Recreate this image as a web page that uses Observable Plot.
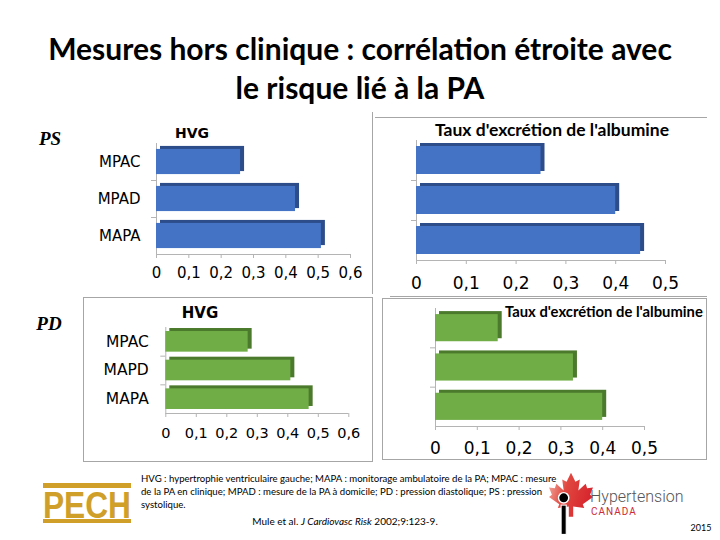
<!DOCTYPE html>
<html><head><meta charset="utf-8">
<script src="https://cdn.jsdelivr.net/npm/d3@7"></script>
<script src="https://cdn.jsdelivr.net/npm/@observablehq/plot@0.6"></script>
<style>
body{margin:0;background:#fff;}
#slide{position:relative;width:720px;height:540px;overflow:hidden;font-family:"DejaVu Sans";background:#fff;}
.abs{position:absolute;white-space:nowrap;line-height:1;}
.line{position:absolute;background:#a6a6a6;}
</style></head><body><div id="slide"></div>
<script>
// ---- data ----
const catsPS = ["MPAC", "MPAD", "MAPA"];
const catsPD = ["MPAC", "MAPD", "MAPA"];
const psHVG = [0.26, 0.43, 0.51];
const psAlb = [0.25, 0.40, 0.45];
const pdHVG = [0.27, 0.41, 0.47];
const pdAlb = [0.15, 0.33, 0.40];
const ticks06 = [0, 0.1, 0.2, 0.3, 0.4, 0.5, 0.6];
const ticks05 = [0, 0.1, 0.2, 0.3, 0.4, 0.5];
const titleHVG = "HVG";
const titleAlb = "Taux d'excrétion de l'albumine";

const slide = document.getElementById("slide");
function txt(s, x, y, style, anchor = "middle") {
  const d = document.createElement("div");
  d.className = "abs";
  d.innerHTML = s;
  d.style.left = x + "px"; d.style.top = y + "px";
  const tx = anchor === "middle" ? "-50%" : anchor === "end" ? "-100%" : "0";
  d.style.transform = `translate(${tx},-50%)`;
  Object.assign(d.style, style);
  slide.appendChild(d);
  return d;
}
function line(x, y, w, h, color = "#a6a6a6") {
  const d = document.createElement("div");
  d.className = "line";
  Object.assign(d.style, {left: x + "px", top: y + "px", width: w + "px", height: h + "px", background: color});
  slide.appendChild(d);
}

function panel(c) {
  const n = c.values.length;
  const data = c.values.map((v, i) => ({i, v, c: c.cats[i]}));
  const fmt = d => String(d).replace(".", ",");
  const p = Plot.plot({
    width: c.width, height: c.height,
    marginLeft: c.x0 - c.left, marginRight: c.left + c.width - c.x1,
    marginTop: c.yTop - c.top, marginBottom: c.top + c.height - c.yBottom,
    x: {domain: [0, c.xmax]},
    y: {domain: [0, n], reverse: true},
    style: {fontFamily: "DejaVu Sans", background: "transparent", overflow: "visible", color: "#000"},
    marks: [
      Plot.ruleX([0], {y1: 0, y2: n, stroke: "#b4b4b4"}),
      Plot.ruleY([n], {x1: 0, x2: c.xmax, stroke: "#b4b4b4"}),
      Plot.axisX({ticks: c.ticks, tickFormat: fmt, tickSize: 4, tickPadding: c.tickPad, stroke: "#b4b4b4", fill: "#000", fontSize: c.tickFont, anchor: "bottom", label: null}),
      Plot.axisY({ticks: d3.range(1, n), tickFormat: () => "", tickSize: 5, stroke: "#b4b4b4", anchor: "left", label: null}),
      c.showCats ? Plot.axisY({ticks: d3.range(n).map(i => i + 0.5), tickFormat: t => c.cats[Math.floor(t)], tickSize: 0, tickPadding: c.catPad, fill: "#000", fontSize: c.catFont, anchor: "left", label: null}) : null,
      Plot.rectX(data, {x: "v", y1: d => d.i + c.pad, y2: d => d.i + 1 - c.pad, fill: c.side, dx: 4, dy: -3}),
      Plot.rectX(data, {x: "v", y1: d => d.i + c.pad, y2: d => d.i + 1 - c.pad, fill: c.front})
    ]
  });
  p.style.position = "absolute";
  p.style.left = c.left + "px";
  p.style.top = c.top + "px";
  slide.appendChild(p);
}

const blue = {front: "#4472c4", side: "#2c4d8a"};
const green = {front: "#70ad47", side: "#4b7a2c"};

panel({left: 80, top: 112, width: 292, height: 180, x0: 156, x1: 350, yTop: 143, yBottom: 254,
  xmax: 0.6, ticks: ticks06, values: psHVG, cats: catsPS, showCats: true, tickFont: 15, tickPad: 9,
  catFont: 15, catPad: 16, pad: 0.16, ...blue});
panel({left: 376, top: 118, width: 330, height: 176, x0: 416, x1: 665, yTop: 140, yBottom: 260,
  xmax: 0.5, ticks: ticks05, values: psAlb, cats: catsPS, showCats: false, tickFont: 17, tickPad: 12,
  pad: 0.15, ...blue});
panel({left: 84, top: 298, width: 288, height: 163, x0: 165.3, x1: 348.3, yTop: 327, yBottom: 413,
  xmax: 0.6, ticks: ticks06, values: pdHVG, cats: catsPD, showCats: true, tickFont: 14.5, tickPad: 10,
  catFont: 15.5, catPad: 17, pad: 0.14, ...green});
panel({left: 383, top: 299, width: 323, height: 158, x0: 435, x1: 644, yTop: 308, yBottom: 426,
  xmax: 0.5, ticks: ticks05, values: pdAlb, cats: catsPD, showCats: false, tickFont: 17, tickPad: 11,
  pad: 0.155, ...green});

// borders
line(372, 112, 1, 182);
line(375, 117, 332, 1);
line(390, 296, 317, 1);
line(83, 297, 290, 1); line(83, 297, 1, 165); line(372, 297, 1, 165); line(83, 461, 290, 1);
line(382, 298, 325, 1); line(382, 298, 1, 161); line(706, 298, 1, 161); line(382, 459, 325, 1);

// titles
const titleStyle = {fontFamily: "Lato", fontWeight: "700", fontSize: "30px", color: "#000"};
txt("Mesures hors clinique : corrélation étroite avec", 360, 48, titleStyle);
txt("le risque lié à la PA", 360, 87, titleStyle);
txt("PS", 50, 138, {fontFamily: "Liberation Serif", fontStyle: "italic", fontWeight: "700", fontSize: "19px"});
txt("PD", 49, 323, {fontFamily: "Liberation Serif", fontStyle: "italic", fontWeight: "700", fontSize: "19px"});
txt(titleHVG, 192, 133, {fontFamily: "DejaVu Sans", fontWeight: "700", fontSize: "14px"});
txt(titleAlb, 552, 130, {fontFamily: "Lato", fontWeight: "700", fontSize: "17.5px"});
txt(titleHVG, 200, 313, {fontFamily: "DejaVu Sans", fontWeight: "700", fontSize: "15px"});
txt(titleAlb, 505, 311, {fontFamily: "Lato", fontWeight: "700", fontSize: "14.8px"}, "start");

// footnote
const fn = {fontFamily: "Lato", fontSize: "9.6px", color: "#000"};
txt("HVG : hypertrophie ventriculaire gauche; MAPA : monitorage ambulatoire de la PA; MPAC : mesure", 141, 479, fn, "start");
txt("de la PA en clinique; MPAD : mesure de la PA à domicile; PD : pression diastolique; PS : pression", 141, 492, fn, "start");
txt("systolique.", 141, 505, fn, "start");
txt("Mule et al. <i>J Cardiovasc Risk</i> 2002;9:123-9.", 345, 521, {fontFamily: "Lato", fontSize: "10px"});
txt("2015", 701, 527, {fontFamily: "Lato", fontSize: "9px"});

// PECH logo
const pech = document.createElement("div");
pech.className = "abs";
pech.style.left = "42px"; pech.style.top = "482px";
pech.innerHTML = `<svg width="90" height="44" style="overflow:visible"><rect x="1" y="1" width="88" height="5" fill="#cf9f2a"/>
<text x="1" y="36" textLength="88" lengthAdjust="spacingAndGlyphs" font-family="Liberation Sans" font-weight="700" font-size="36" fill="#cf9f2a">PECH</text>
<rect x="1" y="37" width="88" height="4" fill="#cf9f2a"/></svg>`;
slide.appendChild(pech);

// Hypertension Canada logo
const hc = document.createElement("div");
hc.className = "abs";
hc.style.left = "549px"; hc.style.top = "472px";
hc.innerHTML = `<svg width="44" height="64" viewBox="0 0 60 85">
<defs><linearGradient id="lg" x1="0" y1="0" x2="1" y2="0.3"><stop offset="0" stop-color="#f4b3a8"/><stop offset="0.45" stop-color="#e0473f"/><stop offset="1" stop-color="#d7262e"/></linearGradient></defs>
<path d="M30,0 L36,12 L42,9 L40,24 L50,15 L52,21 L60,20 L56,30 L60,33 L46,43 L48,48 L33,46 L33,60 L27,60 L27,46 L12,48 L14,43 L0,33 L4,30 L0,20 L8,21 L10,15 L20,24 L18,9 L24,12 Z" fill="url(#lg)"/>
<circle cx="20" cy="34" r="7" fill="#000" stroke="#fff" stroke-width="2"/>
<rect x="16.5" y="44" width="7" height="40" fill="#000" stroke="#fff" stroke-width="1.5"/></svg>`;
slide.appendChild(hc);
txt("Hypertension", 590, 497, {fontFamily: "Roboto", fontWeight: "300", fontSize: "16px", color: "#555"}, "start");
txt("CANADA", 591, 512, {fontFamily: "Roboto", fontSize: "10px", color: "#cc2a36", letterSpacing: "1px"}, "start");
</script></body></html>
